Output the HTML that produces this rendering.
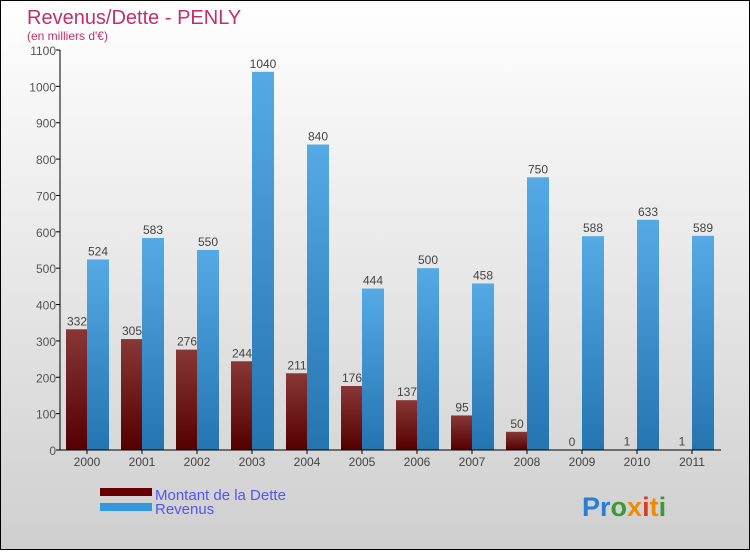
<!DOCTYPE html>
<html><head><meta charset="utf-8"><style>
body{margin:0}
#c{width:750px;height:550px;position:relative;font-family:"Liberation Sans",sans-serif}
</style></head><body>
<div id="c">
<svg width="750" height="550" xmlns="http://www.w3.org/2000/svg" id="svg">
<defs>
<linearGradient id="bg" x1="0" y1="0" x2="0" y2="1"><stop offset="0" stop-color="#ffffff"/><stop offset="1" stop-color="#cfcfcf"/></linearGradient>
<linearGradient id="gd" x1="0" y1="0" x2="0" y2="1"><stop offset="0" stop-color="#883636"/><stop offset="1" stop-color="#550000"/></linearGradient>
<linearGradient id="gr" x1="0" y1="0" x2="0" y2="1"><stop offset="0" stop-color="#55aae6"/><stop offset="1" stop-color="#2474b0"/></linearGradient>
</defs>
<rect x="0.5" y="0.5" width="749" height="549" fill="url(#bg)" stroke="#000"/>
<text x="27" y="24" font-size="20" fill="#c0306a">Revenus/Dette - PENLY</text>
<text x="27" y="40" font-size="12" fill="#c0306a">(en milliers d'€)</text>
<g id="plot"></g>
<rect x="100" y="488" width="52" height="8" fill="#660000"/>
<text x="155" y="500" font-size="15" fill="#5555ee">Montant de la Dette</text>
<rect x="100" y="503" width="52" height="8" fill="#3399dd"/>
<text x="155" y="514" font-size="15" fill="#5555ee">Revenus</text>
<text x="582" y="516" font-size="27" font-weight="bold"><tspan fill="#2a7fd4">Pr</tspan><tspan fill="#3a9a3a">o</tspan><tspan fill="#f08a00">x</tspan><tspan fill="#e03a20">i</tspan><tspan fill="#f08a00">t</tspan><tspan fill="#3a9a3a">i</tspan></text>
</svg>
</div>
<script>
const years=["2000","2001","2002","2003","2004","2005","2006","2007","2008","2009","2010","2011"];
const dette=[332,305,276,244,211,176,137,95,50,0,1,1];
const revenus=[524,583,550,1040,840,444,500,458,750,588,633,589];
const yTicks=[0,100,200,300,400,500,600,700,800,900,1000,1100];
const NS="http://www.w3.org/2000/svg";
const g=document.getElementById('plot');
const y0=450,yMax=1100,yTop=50;
const ys=v=>y0-(v/yMax)*(y0-yTop);
const xc=i=>87+i*55;
function el(t,a){const e=document.createElementNS(NS,t);for(const k in a)e.setAttribute(k,a[k]);g.appendChild(e);return e;}
yTicks.forEach(t=>{
 const l=el('line',{x1:56,x2:60,y1:ys(t),y2:ys(t),stroke:'#000'});
 
 
 const tx=el('text',{x:56,y:ys(t)+5,'font-size':12,fill:'#555','text-anchor':'end'});
 tx.textContent=t;
 
 
});
years.forEach((yr,i)=>{
 const x=xc(i);
 const b1=el('rect',{x:x-21,y:ys(dette[i]),width:21,height:y0-ys(dette[i]),fill:'url(#gd)'});
 
 
 const b2=el('rect',{x:x,y:ys(revenus[i]),width:22,height:y0-ys(revenus[i]),fill:'url(#gr)'});
 
 
 const t1=el('text',{x:x-10,y:ys(dette[i])-4,'font-size':12,fill:'#444','text-anchor':'middle'});
 t1.textContent=dette[i];
 
 
 const t2=el('text',{x:x+11,y:ys(revenus[i])-4,'font-size':12,fill:'#444','text-anchor':'middle'});
 t2.textContent=revenus[i];
 
 
 const tk=el('line',{x1:x,x2:x,y1:450,y2:454,stroke:'#000'});
 
 
 const xl=el('text',{x:x,y:466,'font-size':12,fill:'#444','text-anchor':'middle'});
 xl.textContent=yr;
 
 
});
const ax=el('line',{x1:60,x2:60,y1:50,y2:450,stroke:'#000'});


const axx=el('line',{x1:60,x2:721,y1:450,y2:450,stroke:'#000'});


</script>
</body></html>
